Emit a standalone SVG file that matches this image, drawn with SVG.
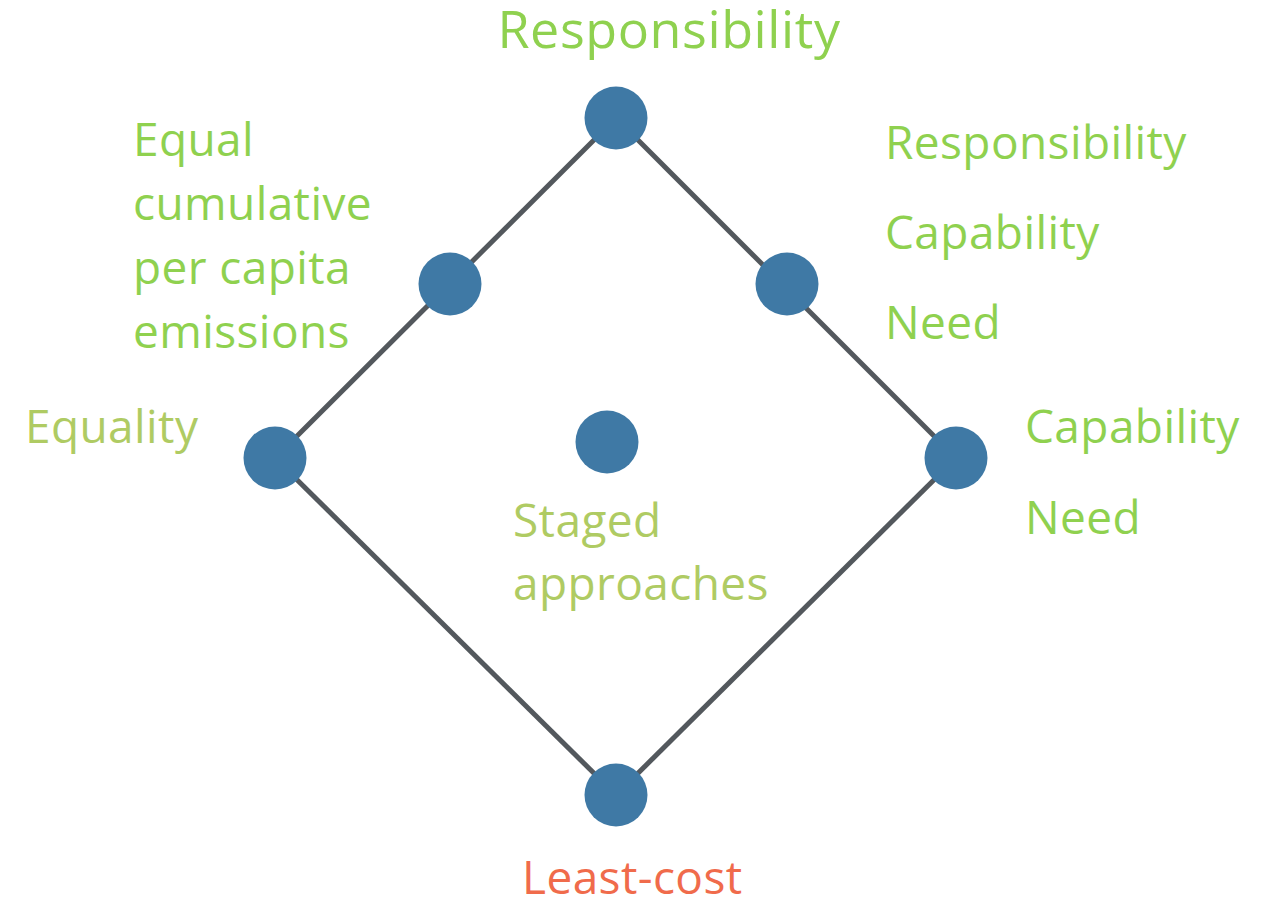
<svg xmlns="http://www.w3.org/2000/svg" width="1269" height="903" viewBox="0 0 1269 903">
<style>
.node{fill:#3f79a5}
.edge{stroke:#53585d;stroke-width:5;fill:none}
text{font-family:"Open Sans","Noto Sans",sans-serif;font-size:46px;letter-spacing:0.4px}
.g{fill:#8fd14f}
.y{fill:#afcb63}
.r{fill:#f06b4b}
</style>
<rect width="1269" height="903" fill="#ffffff"/>
<g id="connectors">
<line class="edge" x1="616" y1="118" x2="275" y2="458"/>
<line class="edge" x1="616" y1="118" x2="956" y2="458"/>
<line class="edge" x1="275" y1="458" x2="616" y2="795"/>
<line class="edge" x1="956" y1="458" x2="616" y2="795"/>
</g>
<g id="node-top"><circle class="node" cx="616" cy="118" r="31.5"/><text class="g" x="669" y="48" text-anchor="middle" style="font-size:52px;letter-spacing:0.6px">Responsibility</text></g>
<g id="node-left-mid"><circle class="node" cx="450" cy="284" r="31.5"/>
<text class="g" x="133" y="156">Equal</text>
<text class="g" x="133" y="220">cumulative</text>
<text class="g" x="133" y="284">per capita</text>
<text class="g" x="133" y="348">emissions</text></g>
<g id="node-right-mid"><circle class="node" cx="787" cy="284" r="31.5"/>
<text class="g" x="885" y="159">Responsibility</text>
<text class="g" x="885" y="249">Capability</text>
<text class="g" x="885" y="339">Need</text></g>
<g id="node-left"><circle class="node" cx="275" cy="458" r="31.5"/><text class="y" x="25" y="443">Equality</text></g>
<g id="node-right"><circle class="node" cx="956" cy="458" r="31.5"/>
<text class="g" x="1025" y="443">Capability</text>
<text class="g" x="1025" y="534">Need</text></g>
<g id="node-center"><circle class="node" cx="607" cy="442" r="31.5"/>
<text class="y" x="513" y="537">Staged</text>
<text class="y" x="513" y="600">approaches</text></g>
<g id="node-bottom"><circle class="node" cx="616" cy="795" r="31.5"/><text class="r" x="522" y="894">Least-cost</text></g>
</svg>
